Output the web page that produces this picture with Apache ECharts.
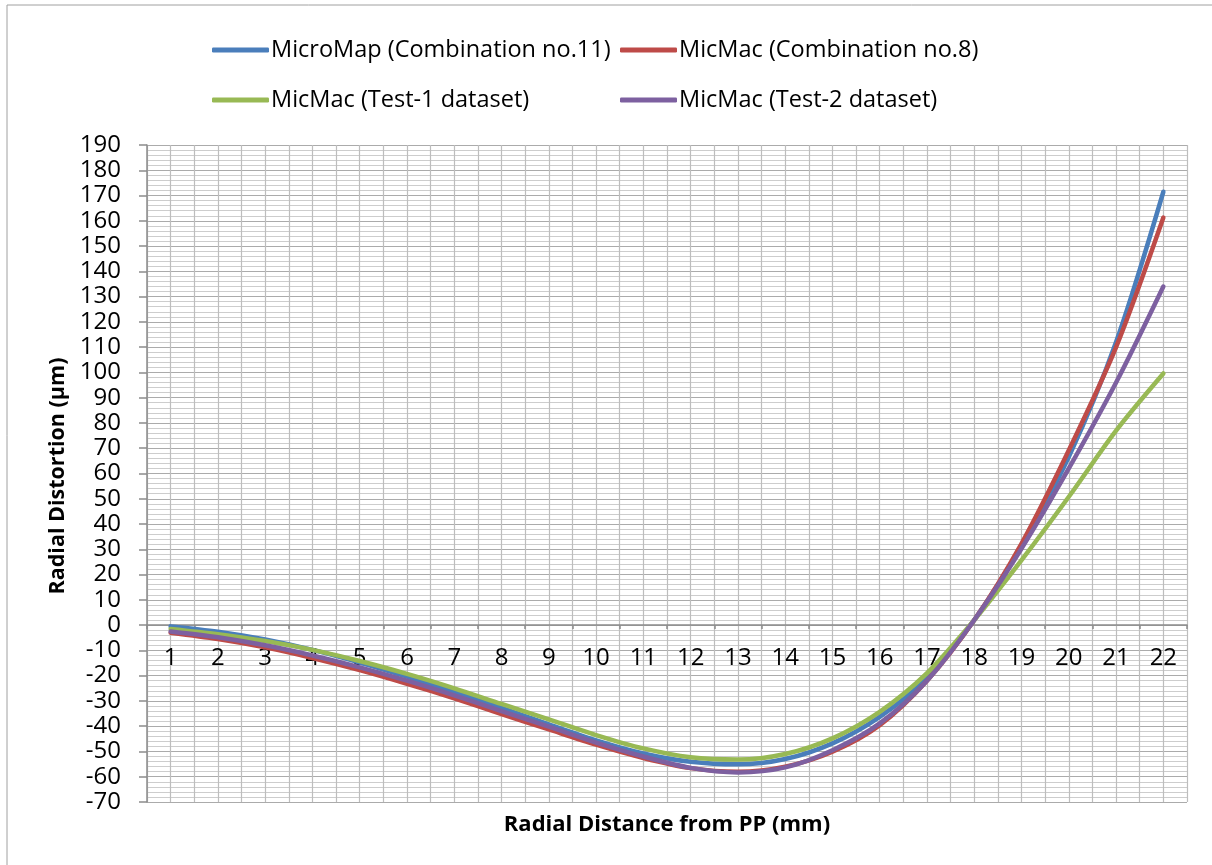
<!DOCTYPE html>
<html>
<head>
<meta charset="utf-8">
<script src="https://cdn.jsdelivr.net/npm/echarts@6/dist/echarts.min.js"></script>
<style>html,body{margin:0;padding:0;background:#fff}#c{width:1212px;height:865px}</style>
</head>
<body>
<div id="c"></div>
<script>
const categories = [1,2,3,4,5,6,7,8,9,10,11,12,13,14,15,16,17,18,19,20,21,22];
const microMap = [-0.5,-2.6,-5.7,-9.8,-14.8,-20.4,-26.4,-32.8,-39.3,-45.6,-50.8,-54.1,-55.1,-53,-46.8,-36.3,-21,2,31.5,66.6,112,171.5];
const micMac8 = [-3,-5.5,-8.8,-13,-17.8,-23.2,-29,-35.2,-41.3,-47.3,-52.6,-56.6,-58,-56,-50.1,-39.6,-22,2,32.3,69.2,110,161.3];
const test1 = [-1.5,-3.6,-6.3,-9.8,-14.2,-19.3,-25,-31.2,-37.3,-43.5,-48.8,-52.3,-53.2,-51,-44.8,-34.3,-19,2,25.7,50.8,77,99.6];
const test2 = [-2.5,-4.8,-8,-12,-16.7,-22,-27.8,-34,-40.2,-46.5,-52,-56.5,-58.3,-56.3,-49.5,-38.9,-22,2,30.3,62,96,134];
const seriesNames = ['MicroMap (Combination no.11)','MicMac (Combination no.8)','MicMac (Test-1 dataset)','MicMac (Test-2 dataset)'];
const seriesColors = ['#4A7EBB','#BE4B48','#98B954','#7D60A0'];
const seriesData = [microMap, micMac8, test1, test2];
const yTitle = 'Radial Distortion (µm)';
const xTitle = 'Radial Distance from PP (mm)';

const FONT = '"Open Sans", "Noto Sans", sans-serif';
const chart = echarts.init(document.getElementById('c'));
const legendPos = [[207,33],[615,33],[207,83],[615,83]];
const ZERO_OFFSET = -480;
const option = {
  backgroundColor:'#fff',
  animation:false,
  grid:{left:147,right:25,top:145,bottom:63,containLabel:false},
  legend: seriesNames.map((n,i)=>({
    data:[{name:n,icon:'roundRect'}], left:legendPos[i][0], top:legendPos[i][1], itemWidth:57, itemHeight:5, itemGap:0,
    textStyle:{fontFamily:FONT,fontSize:23.5,color:'#000',padding:[0,0,0,-3]}
  })),
  xAxis:[{
    type:'value', min:0.5, max:22.5, interval:0.5,
    axisLine:{show:true,onZero:true,lineStyle:{color:'#8c8c8c',width:1.5}},
    axisTick:{show:false},
    axisLabel:{show:false},
    splitLine:{show:true,lineStyle:{color:'#bdbdbd',width:1.2}}
  },{
    type:'value', min:0.5, max:22.5, interval:0.5, position:'top', offset:ZERO_OFFSET,
    axisLine:{show:false,onZero:false},
    axisTick:{show:false},
    axisLabel:{show:true,inside:true,margin:21,fontFamily:FONT,fontSize:24,color:'#000',
      formatter:v=>Number.isInteger(v)?String(categories[v-1]):'', showMinLabel:false, showMaxLabel:false},
    splitLine:{show:false}
  },{
    type:'value', min:0.5, max:22.5, interval:1, position:'top', offset:ZERO_OFFSET,
    axisLine:{show:false,onZero:false},
    axisTick:{show:true,length:4,inside:true,lineStyle:{color:'#8c8c8c',width:1.5}},
    axisLabel:{show:false}, splitLine:{show:false}
  }],
  yAxis:{
    type:'value', min:-70, max:190, interval:10,
    axisLine:{show:true,onZero:false,lineStyle:{color:'#8c8c8c',width:1.5}},
    axisTick:{show:true,length:8,lineStyle:{color:'#8c8c8c',width:1.5}},
    axisLabel:{margin:26,fontFamily:FONT,fontSize:24,color:'#000'},
    splitLine:{show:true,lineStyle:{color:'#ababab',width:1.2}},
    minorTick:{show:false,splitNumber:5},
    minorSplitLine:{show:true,lineStyle:{color:'#cdcdcd',width:1}}
  },
  graphic:[
    {type:'rect',shape:{x:7,y:5,width:1300,height:1000},style:{fill:'none',stroke:'#a0a0a0',lineWidth:1},silent:true},
    {type:'text',x:58,y:476,rotation:Math.PI/2,style:{text:yTitle,font:'bold 21.5px '+FONT,fill:'#000',align:'center',verticalAlign:'middle'}},
    {type:'text',x:667,y:825,style:{text:xTitle,font:'bold 22px '+FONT,fill:'#000',align:'center',verticalAlign:'middle'}}
  ],
  series: seriesNames.map((n,i)=>({
    name:n, type:'line', xAxisIndex:0, smooth:0.3, symbol:'none', color:seriesColors[i],
    lineStyle:{width:4.5,color:seriesColors[i],cap:'round'},
    data: categories.map((c,j)=>[c, seriesData[i][j]])
  }))
};
chart.setOption(option);
</script>
</body>
</html>
